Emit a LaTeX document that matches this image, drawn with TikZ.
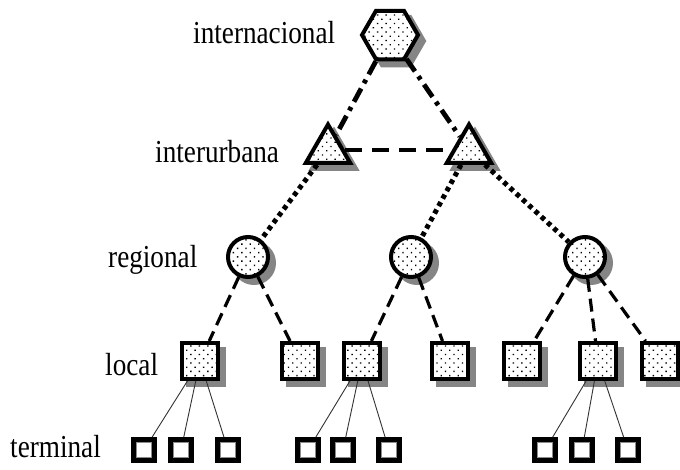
\documentclass[tikz,border=0pt]{standalone}
\usepackage{fontspec}
\setmainfont{Liberation Serif}
\usetikzlibrary{shapes.geometric,shadows,patterns.meta}
\begin{document}
\begin{tikzpicture}[x=1pt,y=-1pt,
  base/.style={draw=black, line width=4pt, inner sep=0pt,
    drop shadow={shadow xshift=6pt, shadow yshift=-6pt, fill=black!48, draw=black!48, line width=4pt, opacity=1},
    preaction={fill=white},
    pattern={Dots[radius=0.95pt,distance=6pt,angle=45]}},
  hexnode/.style={base, regular polygon, regular polygon sides=6, minimum size=56pt},
  trinode/.style={base, regular polygon, regular polygon sides=3, minimum size=51pt},
  circnode/.style={base, circle, minimum size=40pt},
  sqnode/.style={base, rectangle, minimum size=36pt},
  termnode/.style={draw=black, line width=4.5pt, fill=white, rectangle, minimum size=21pt, inner sep=0pt,
    path picture={\draw[black!45, line width=1pt] ([shift={(3pt,3pt)}]path picture bounding box.south west) rectangle ([shift={(-3pt,-3pt)}]path picture bounding box.north east);}},
  lbl/.style={anchor=base west, inner sep=0pt, font=\fontsize{32}{36}\selectfont},
  ddot/.style={line width=4.8pt, dash pattern=on 15pt off 6pt on 4pt off 6pt},
  tdash/.style={line width=4.2pt, dash pattern=on 17pt off 10pt},
  dotline/.style={line width=5pt, dash pattern=on 4.5pt off 4pt},
  cdash/.style={line width=3.2pt, dash pattern=on 13pt off 7pt},
  tline/.style={line width=0.9pt, black!80}
]
\useasboundingbox (0,0) rectangle (680,469);
\fill[white] (0,0) rectangle (680,469);

% labels
\node[lbl] (linter) at (193,43) {\scalebox{0.85}[1]{internacional}};
\node[lbl] (lurb) at (155,162) {\scalebox{0.85}[1]{interurbana}};
\node[lbl] (lreg) at (108,267) {\scalebox{0.85}[1]{regional}};
\node[lbl] (lloc) at (105,375) {\scalebox{0.85}[1]{local}};
\node[lbl] (lterm) at (10,457) {\scalebox{0.85}[1]{terminal}};

% nodes
\node[hexnode] (hex) at (390,35) {};
\node[trinode] (lt) at (328,150) {};
\node[trinode] (rt) at (469,150) {};
\node[circnode] (c1) at (248,257) {};
\node[circnode] (c2) at (411,257) {};
\node[circnode] (c3) at (585,257) {};
\node[sqnode] (s1) at (200,361) {};
\node[sqnode] (s2) at (300,361) {};
\node[sqnode] (s3) at (362,361) {};
\node[sqnode] (s4) at (450,361) {};
\node[sqnode] (s5) at (522,361) {};
\node[sqnode] (s6) at (598,361) {};
\node[sqnode] (s7) at (660,361) {};
\node[termnode] (t1) at (144,450) {};
\node[termnode] (t2) at (181,450) {};
\node[termnode] (t3) at (228,450) {};
\node[termnode] (t4) at (308,450) {};
\node[termnode] (t5) at (343,450) {};
\node[termnode] (t6) at (389,450) {};
\node[termnode] (t7) at (545,450) {};
\node[termnode] (t8) at (582,450) {};
\node[termnode] (t9) at (628,450) {};

% connectors
\draw[ddot] (hex) -- (lt);
\draw[ddot] (hex) -- (rt);
\draw[tdash] (lt) -- (rt);
\draw[dotline] (lt) -- (c1);
\draw[dotline] (rt) -- (c2);
\draw[dotline] (rt) -- (c3);
\draw[cdash] (c1) -- (s1);
\draw[cdash] (c1) -- (s2);
\draw[cdash] (c2) -- (s3);
\draw[cdash] (c2) -- (s4);
\draw[cdash] (c3) -- (s5);
\draw[cdash] (c3) -- (s6);
\draw[cdash] (c3) -- (s7);
\draw[tline] (s1) -- (t1);
\draw[tline] (s1) -- (t2);
\draw[tline] (s1) -- (t3);
\draw[tline] (s3) -- (t4);
\draw[tline] (s3) -- (t5);
\draw[tline] (s3) -- (t6);
\draw[tline] (s6) -- (t7);
\draw[tline] (s6) -- (t8);
\draw[tline] (s6) -- (t9);
\end{tikzpicture}
\end{document}
